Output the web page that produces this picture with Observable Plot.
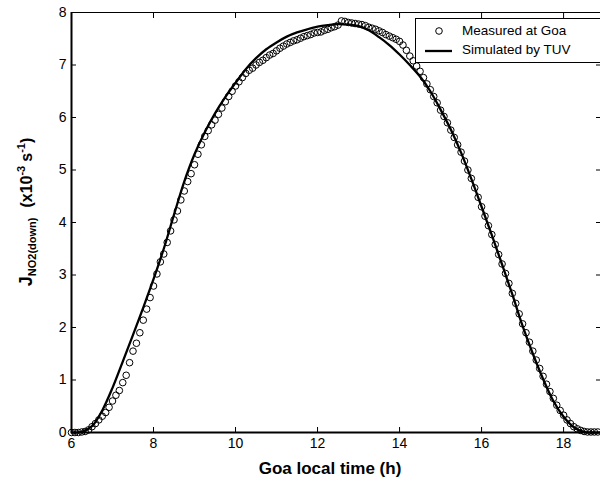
<!DOCTYPE html>
<html><head><meta charset="utf-8">
<script src="https://cdn.jsdelivr.net/npm/d3@7"></script>
<script src="https://cdn.jsdelivr.net/npm/@observablehq/plot@0.6"></script>
<style>body{margin:0;background:#fff}</style>
</head><body><div id="chart"></div>
<script>
// Measured J(NO2) at Goa, sampled every 5 minutes starting 06:00 (units 1e-3 s^-1)
const measuredStartHour = 6;
const measuredStepHour = 1 / 12;
const measuredValues = [
  0, 0, 0, 0.01, 0.02, 0.05, 0.11, 0.17, 0.24, 0.31, 0.38, 0.48,
  0.6, 0.71, 0.8, 0.95, 1.09, 1.33, 1.55, 1.7, 1.9, 2.14, 2.35, 2.57,
  2.79, 3.02, 3.25, 3.4, 3.62, 3.84, 4.05, 4.22, 4.43, 4.6, 4.78, 4.93,
  5.1, 5.3, 5.48, 5.64, 5.75, 5.86, 5.95, 6.06, 6.18, 6.3, 6.4, 6.5,
  6.6, 6.68, 6.76, 6.84, 6.9, 6.94, 7.0, 7.05, 7.09, 7.14, 7.19, 7.22,
  7.27, 7.32, 7.36, 7.4, 7.43, 7.46, 7.48, 7.51, 7.54, 7.56, 7.58, 7.61,
  7.62, 7.63, 7.66, 7.68, 7.71, 7.73, 7.76, 7.84, 7.83, 7.81, 7.8, 7.79,
  7.78, 7.77, 7.75, 7.72, 7.7, 7.68, 7.65, 7.62, 7.58, 7.55, 7.52, 7.49,
  7.45, 7.38, 7.28, 7.17, 7.08, 6.98, 6.88, 6.76, 6.64, 6.53, 6.4, 6.28,
  6.14, 6.02, 5.9, 5.76, 5.62, 5.48, 5.34, 5.17, 5.0, 4.84, 4.66, 4.48,
  4.3, 4.12, 3.94, 3.77, 3.58, 3.39, 3.21, 3.03, 2.84, 2.65, 2.46, 2.26,
  2.07, 1.9, 1.72, 1.55, 1.38, 1.22, 1.07, 0.92, 0.78, 0.65, 0.52, 0.42,
  0.33, 0.24, 0.17, 0.11, 0.07, 0.04, 0.02, 0.01, 0.01, 0.01, 0.01
];
// Simulated by TUV
const simHours = [6, 6.25, 6.5, 6.75, 7, 7.25, 7.5, 7.75, 8, 8.25, 8.5, 8.75, 9, 9.25, 9.5, 9.75,
  10, 10.25, 10.5, 10.75, 11, 11.25, 11.5, 11.75, 12, 12.25, 12.5, 12.75, 13, 13.25, 13.5, 13.75,
  14, 14.25, 14.5, 14.75, 15, 15.25, 15.5, 15.75, 16, 16.25, 16.5, 16.75, 17, 17.25, 17.5, 17.75,
  18, 18.25, 18.5, 18.75, 18.9];
const simValues = [0, 0.01, 0.12, 0.42, 0.85, 1.35, 1.86, 2.38, 2.92, 3.5, 4.15, 4.78, 5.3, 5.72, 6.08, 6.39,
  6.66, 6.92, 7.13, 7.3, 7.43, 7.54, 7.62, 7.68, 7.73, 7.76, 7.78, 7.77, 7.74, 7.66, 7.53, 7.38,
  7.2, 7.0, 6.78, 6.5, 6.15, 5.77, 5.33, 4.83, 4.3, 3.76, 3.2, 2.63, 2.03, 1.5, 1.02, 0.6,
  0.3, 0.1, 0.01, 0, 0];
const xTicks = [6, 8, 10, 12, 14, 16, 18];
const yTicks = [0, 1, 2, 3, 4, 5, 6, 7, 8];
const xTitle = "Goa local time (h)";
const legendLabels = ["Measured at Goa", "Simulated by TUV"];

const measured = measuredValues.map((v, i) => ({h: measuredStartHour + i * measuredStepHour, v}));
const simulated = simHours.map((h, i) => ({h, v: simValues[i]}));

const FONT = "Arial, 'Liberation Sans', Helvetica, sans-serif";

const plot = Plot.plot({
  width: 600, height: 484,
  marginLeft: 71, marginRight: 0, marginTop: 12, marginBottom: 52,
  style: {fontFamily: FONT, fontSize: "14px", color: "#000", background: "#fff", overflow: "visible"},
  x: {domain: [6, 18.9]},
  y: {domain: [0, 8]},
  marks: [
    Plot.ruleY([8], {stroke: "#000", strokeWidth: 1}),
    Plot.line(simulated, {x: "h", y: "v", stroke: "#000", strokeWidth: 2.3, curve: "catmull-rom"}),
    Plot.dot(measured, {x: "h", y: "v", r: 3.3, stroke: "#000", strokeWidth: 1, fill: "none"}),
    Plot.ruleY([0], {stroke: "#000", strokeWidth: 2}),
    Plot.ruleX([6], {stroke: "#000", strokeWidth: 2}),
    Plot.axisX({ticks: xTicks, anchor: "bottom", tickSize: -5, tickPadding: 11, label: null, fontSize: 14}),
    Plot.axisX({ticks: xTicks, anchor: "top", tickSize: -5, tickFormat: () => "", label: null}),
    Plot.axisY({ticks: yTicks, anchor: "left", tickSize: -5, tickPadding: 10, label: null, fontSize: 14}),
    Plot.axisY({ticks: yTicks, anchor: "right", tickSize: -5, tickFormat: () => "", label: null})
  ]
});
document.getElementById("chart").appendChild(plot);

const svg = d3.select(plot);
// x title
svg.append("text")
  .attr("x", 330).attr("y", 474)
  .attr("text-anchor", "middle")
  .attr("font-family", FONT).attr("font-weight", "bold").attr("font-size", 17)
  .attr("fill", "#000")
  .text(xTitle);

// y title
const yt = svg.append("text")
  .attr("transform", "translate(32,212) rotate(-90)")
  .attr("text-anchor", "middle")
  .attr("font-family", FONT).attr("font-weight", "bold").attr("font-size", 16)
  .attr("fill", "#000");
yt.append("tspan").attr("font-size", 18).text("J");
yt.append("tspan").attr("font-size", 11).attr("dy", 4).text("NO2(down)");
yt.append("tspan").attr("dy", -4).attr("dx", 10).text("(x10");
yt.append("tspan").attr("font-size", 11).attr("dy", -7).text("-3");
yt.append("tspan").attr("dy", 7).attr("dx", 4).text("s");
yt.append("tspan").attr("font-size", 11).attr("dy", -7).text("-1");
yt.append("tspan").attr("dy", 7).text(")");

// legend
const lg = svg.append("g");
lg.append("rect").attr("x", 415.5).attr("y", 18.5).attr("width", 190).attr("height", 44)
  .attr("fill", "#fff").attr("stroke", "#000").attr("stroke-width", 1);
lg.append("circle").attr("cx", 439).attr("cy", 31).attr("r", 3.3)
  .attr("fill", "none").attr("stroke", "#000");
lg.append("line").attr("x1", 425).attr("x2", 452).attr("y1", 51).attr("y2", 51)
  .attr("stroke", "#000").attr("stroke-width", 2.3);
legendLabels.forEach((t, i) => {
  lg.append("text").attr("x", 462).attr("y", 35 + i * 19)
    .attr("text-anchor", "start")
    .attr("font-family", FONT).attr("font-size", 13.5).attr("fill", "#000").text(t);
});
</script>
</body></html>
